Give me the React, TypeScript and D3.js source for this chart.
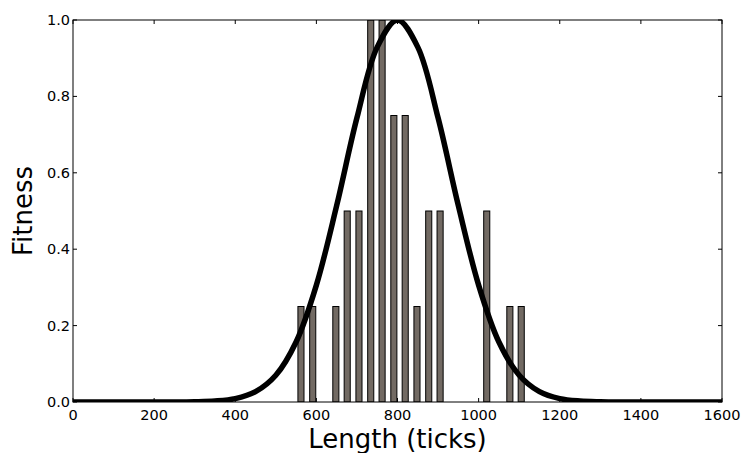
import { useEffect, useRef } from 'react';
import * as d3 from 'd3';

// bar positions (length in ticks) and fitness heights
const barLengths = [562, 591, 619, 648, 676, 705, 734, 762, 791, 819, 848, 877, 905, 934, 962, 991, 1020, 1048, 1077, 1105];
const barFitness = [0.25, 0.25, 0, 0.25, 0.5, 0.5, 1.0, 1.0, 0.75, 0.75, 0.25, 0.5, 0.5, 0, 0, 0, 0.5, 0, 0.25, 0.25];

// fitted curve (peak at 800)
const curveX = [0, 100, 200, 250, 300, 350, 400, 450, 500, 550, 600, 650, 700, 750, 800, 850, 900, 950, 1000, 1050, 1100, 1150, 1200, 1250, 1300, 1350, 1400, 1500, 1600];
const curveY = [0, 0, 0, 0, 0.0006, 0.0025, 0.0088, 0.027, 0.07, 0.157, 0.306, 0.514, 0.744, 0.929, 1.0, 0.929, 0.744, 0.514, 0.306, 0.157, 0.07, 0.027, 0.0088, 0.0025, 0.0006, 0, 0, 0, 0];

const xTicks = [0, 200, 400, 600, 800, 1000, 1200, 1400, 1600];
const yTicks = [0.0, 0.2, 0.4, 0.6, 0.8, 1.0];

const W = 745, H = 453;
const FONT = '"DejaVu Sans", sans-serif';

export default function App() {
  const ref = useRef<SVGSVGElement>(null);

  useEffect(() => {
    const svg = d3.select(ref.current);
    svg.selectAll('*').remove();

    const x = d3.scaleLinear().domain([0, 1600]).range([73, 722]);
    const y = d3.scaleLinear().domain([0, 1]).range([402, 20]);

    svg.append('defs').append('clipPath').attr('id', 'plot-clip')
      .append('rect')
      .attr('x', 73).attr('y', 20).attr('width', 722 - 73).attr('height', 402 - 20);

    const plot = svg.append('g').attr('clip-path', 'url(#plot-clip)');

    const barW = x(15) - x(0);
    plot.selectAll('rect.bar')
      .data(barLengths.map((l, i) => ({ l, f: barFitness[i] })))
      .enter().append('rect')
      .attr('class', 'bar')
      .attr('x', d => x(d.l) - barW / 2)
      .attr('y', d => y(d.f))
      .attr('width', barW)
      .attr('height', d => y(0) - y(d.f))
      .attr('fill', '#726a63')
      .attr('stroke', '#000')
      .attr('stroke-width', 1);

    const pts = curveX.map((v, i) => [v, curveY[i]] as [number, number]);
    plot.append('path')
      .datum(pts)
      .attr('d', d3.line<[number, number]>().x(d => x(d[0])).y(d => y(d[1])).curve(d3.curveCatmullRom))
      .attr('fill', 'none')
      .attr('stroke', '#000')
      .attr('stroke-width', 5.5)
      .attr('stroke-linejoin', 'round');

    // frame
    svg.append('rect')
      .attr('x', 73).attr('y', 20).attr('width', 722 - 73).attr('height', 402 - 20)
      .attr('fill', 'none').attr('stroke', '#000').attr('stroke-width', 1);

    const tickLen = 4;
    const axes = svg.append('g').attr('stroke', '#000').attr('stroke-width', 1);
    xTicks.forEach(t => {
      axes.append('line').attr('x1', x(t)).attr('x2', x(t)).attr('y1', 402).attr('y2', 402 - tickLen);
      axes.append('line').attr('x1', x(t)).attr('x2', x(t)).attr('y1', 20).attr('y2', 20 + tickLen);
    });
    yTicks.forEach(t => {
      axes.append('line').attr('x1', 73).attr('x2', 73 + tickLen).attr('y1', y(t)).attr('y2', y(t));
      axes.append('line').attr('x1', 722).attr('x2', 722 - tickLen).attr('y1', y(t)).attr('y2', y(t));
    });

    svg.append('g').selectAll('text')
      .data(xTicks).enter().append('text')
      .attr('x', d => x(d)).attr('y', 420)
      .attr('text-anchor', 'middle')
      .style('font-family', FONT).style('font-size', '14.5px')
      .text(d => String(d));

    svg.append('g').selectAll('text')
      .data(yTicks).enter().append('text')
      .attr('x', 70).attr('y', d => y(d) + 5)
      .attr('text-anchor', 'end')
      .style('font-family', FONT).style('font-size', '14.5px')
      .text(d => d.toFixed(1));

    svg.append('text')
      .attr('x', (73 + 722) / 2).attr('y', 448)
      .attr('text-anchor', 'middle')
      .style('font-family', FONT).style('font-size', '26px')
      .text('Length (ticks)');

    svg.append('text')
      .attr('transform', `translate(32, ${(20 + 402) / 2}) rotate(-90)`)
      .attr('text-anchor', 'middle')
      .style('font-family', FONT).style('font-size', '26px')
      .text('Fitness');
  }, []);

  return (
    <svg ref={ref} width={W} height={H}
      style={{ position: 'absolute', left: 0, top: 0, background: '#fff' }} />
  );
}
